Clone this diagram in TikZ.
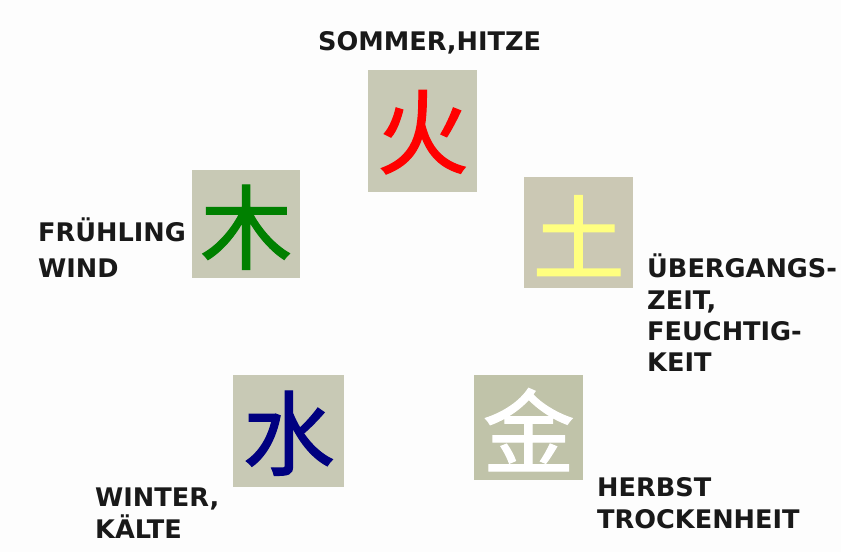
\documentclass[tikz,border=0pt]{standalone}
\usepackage{fontspec}
\setmainfont{DejaVu Sans}
\newfontfamily\cjk[FakeBold=1.3]{Noto Sans CJK SC}
\definecolor{tileA}{HTML}{C8C9B5}
\definecolor{tileB}{HTML}{CBC8B4}
\definecolor{tileC}{HTML}{C0C3A9}
\definecolor{firecol}{HTML}{FF0000}
\definecolor{woodcol}{HTML}{008000}
\definecolor{earthcol}{HTML}{FFFF80}
\definecolor{watercol}{HTML}{000080}
\definecolor{bgcol}{HTML}{FDFDFD}
\begin{document}
\begin{tikzpicture}[x=1pt,y=-1pt,
  tile/.style={fill=#1, draw=none, inner sep=0pt, anchor=north west},
  glyph/.style={font=\cjk\fontsize{92}{92}\selectfont, text=#1, inner sep=0pt},
  lbl/.style={font=\bfseries\fontsize{25.6}{#1}\selectfont, align=left, inner sep=0pt, anchor=north west, text=black!90}]
\fill[bgcol] (0,0) rectangle (841,552);
\useasboundingbox (0,0) rectangle (841,552);
% tiles
\node[tile=tileA, minimum width=109pt, minimum height=122pt] (fire) at (368,70) {};
\node[tile=tileA, minimum width=108pt, minimum height=108pt] (wood) at (192,170) {};
\node[tile=tileB, minimum width=109pt, minimum height=111pt] (earth) at (524,177) {};
\node[tile=tileA, minimum width=111pt, minimum height=112pt] (water) at (233,375) {};
\node[tile=tileC, minimum width=109pt, minimum height=105pt] (metal) at (474,375) {};
% glyphs
\node[glyph=firecol] (gfire) at ([yshift=-1pt]fire.center) {火};
\node[glyph=woodcol] (gwood) at ([yshift=-3pt]wood.center) {木};
\node[glyph=earthcol] (gearth) at ([yshift=-3pt]earth.center) {土};
\node[glyph=watercol] (gwater) at ([yshift=-2pt]water.center) {水};
\node[glyph=white] (gmetal) at ([yshift=-2pt]metal.center) {金};
% labels
\node[lbl=33] (lfire) at (318,31) {SOMMER,HITZE};
\node[lbl=36] (lwood) at (38,218) {FRÜHLING\\WIND};
\node[lbl=31.3] (learth) at (647,254) {ÜBERGANGS-\\ZEIT,\\FEUCHTIG-\\KEIT};
\node[lbl=32] (lwater) at (95,488) {WINTER,\\KÄLTE};
\node[lbl=32] (lmetal) at (597,477) {HERBST\\TROCKENHEIT};
\end{tikzpicture}
\end{document}
